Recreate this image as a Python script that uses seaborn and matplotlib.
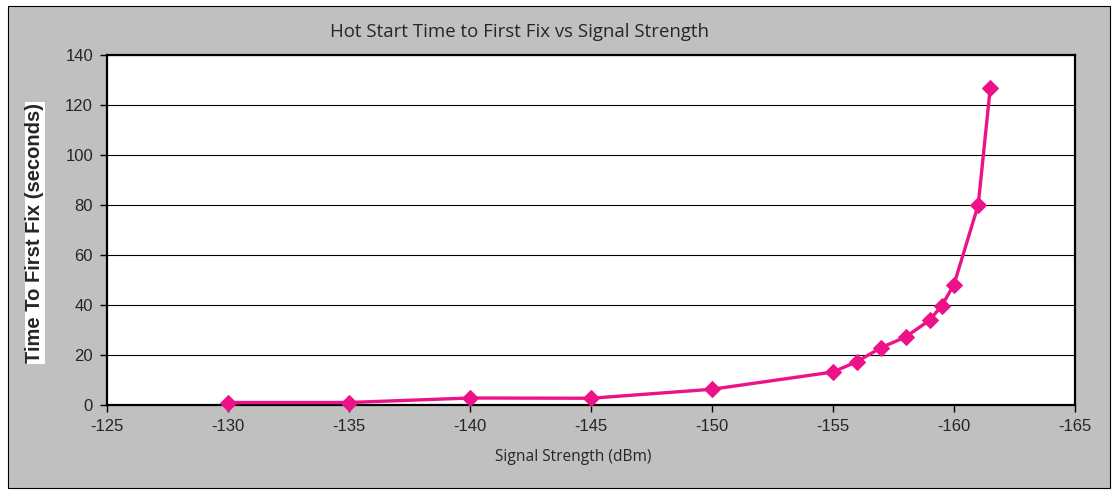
import numpy as np
import pandas as pd
import matplotlib
matplotlib.use("Agg")
import matplotlib.pyplot as plt
from matplotlib.patches import Rectangle
import seaborn as sns

# signal strength (dBm) and hot start TTFF (s)
signal_dbm = [-130, -135, -140, -145, -150, -155, -156, -157, -158, -159, -159.5, -160, -161, -161.5]
ttff_sec = [1.0, 1.0, 2.8, 2.7, 6.3, 13.2, 17.4, 23.0, 27.2, 34.0, 39.8, 48.2, 80.0, 127.0]

x_ticks = [-125, -130, -135, -140, -145, -150, -155, -160, -165]
y_ticks = [0, 20, 40, 60, 80, 100, 120, 140]

df = pd.DataFrame({"signal": signal_dbm, "ttff": ttff_sec})

sns.set_style("white")
plt.rcParams["font.family"] = ["Liberation Sans", "DejaVu Sans"]

W, H = 1117, 492
fig = plt.figure(figsize=(W / 100, H / 100), dpi=100)
fig.patch.set_facecolor("white")

# grey chart area with thin black border
fig.add_artist(Rectangle((8 / W, 1 - 488 / H), (1110 - 8) / W, (488 - 6) / H,
                         transform=fig.transFigure, facecolor="#C0C0C0",
                         edgecolor="black", linewidth=0.8, zorder=0))

ax = fig.add_axes([107 / W, 1 - 405 / H, (1075 - 107) / W, (405 - 55) / H])
ax.set_facecolor("white")

pink = "#EE1289"
sns.lineplot(data=df, x="signal", y="ttff", ax=ax, color=pink, linewidth=2.4,
             marker="D", markersize=8, markeredgecolor=pink, sort=False,
             zorder=5, clip_on=False)

ax.set_xlim(-125, -165)
ax.set_ylim(0, 140)
ax.set_xticks(x_ticks)
ax.set_yticks(y_ticks)
ax.set_xticklabels([str(v) for v in x_ticks], fontsize=12)
ax.set_yticklabels([str(v) for v in y_ticks], fontsize=12)
ax.yaxis.grid(True, color="black", linewidth=0.8)
ax.xaxis.grid(False)
ax.set_axisbelow(True)
for s in ax.spines.values():
    s.set_color("black")
    s.set_linewidth(1.6)
ax.tick_params(axis="both", direction="out", length=5, width=1, color="black",
               left=True, bottom=True, pad=5)

ax.set_xlabel("")
ax.set_ylabel("")
fig.text(519 / W, 1 - 32 / H, "Hot Start Time to First Fix vs Signal Strength",
         ha="center", va="center", fontsize=13.4, family=["Open Sans", "DejaVu Sans"])
fig.text(573 / W, 1 - 457 / H, "Signal Strength (dBm)", ha="center", va="center",
         fontsize=11.2, family=["Open Sans", "DejaVu Sans"])
fig.text(35 / W, 1 - 233 / H, "Time To First Fix (seconds)", ha="center", va="center",
         rotation=90, fontsize=14.5, fontweight="bold",
         bbox=dict(facecolor="white", edgecolor="none", pad=0.5))

fig.savefig("out.png", dpi=100)
